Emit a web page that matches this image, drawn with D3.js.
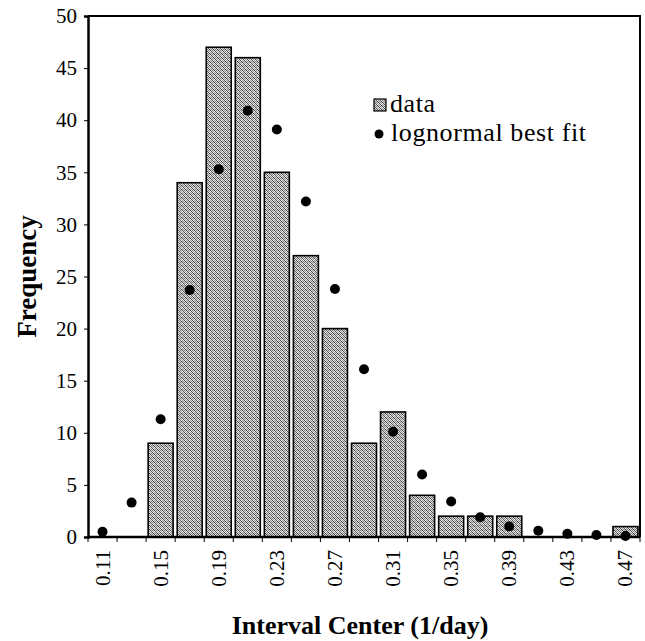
<!DOCTYPE html>
<html>
<head>
<meta charset="utf-8">
<script src="https://cdn.jsdelivr.net/npm/d3@7"></script>
<style>
  html, body { margin: 0; padding: 0; background: #fff; }
  svg { display: block; }
</style>
</head>
<body>
<svg id="chart" width="645" height="641"></svg>
<script>
// Interval centres (1/day), observed counts and lognormal fit
const categories = ["0.11","0.13","0.15","0.17","0.19","0.21","0.23","0.25","0.27","0.29",
                    "0.31","0.33","0.35","0.37","0.39","0.41","0.43","0.45","0.47"];
const dataCounts = [0, 0, 9, 34, 47, 46, 35, 27, 20, 9, 12, 4, 2, 2, 2, 0, 0, 0, 1];
const fitValues  = [0.5, 3.3, 11.3, 23.7, 35.3, 40.9, 39.1, 32.2, 23.8, 16.1,
                    10.1, 6.0, 3.4, 1.9, 1.0, 0.6, 0.3, 0.2, 0.1];
const yTicks = [0, 5, 10, 15, 20, 25, 30, 35, 40, 45, 50];
const xTickLabels = ["0.11","0.15","0.19","0.23","0.27","0.31","0.35","0.39","0.43","0.47"];

const svg = d3.select("#chart");
const margin = { left: 88, right: 5, top: 16, bottom: 104 };
const W = 645, H = 641;
const x0 = margin.left, x1 = W - margin.right, y0 = H - margin.bottom, y1 = margin.top;

const x = d3.scaleBand().domain(categories).range([x0, x1]).paddingInner(0.14).paddingOuter(0.07);
const y = d3.scaleLinear().domain([0, 50]).range([y0, y1]);

// stippled grey fill for the bars (4x4 dither cell)
const defs = svg.append("defs");
const pat = defs.append("pattern").attr("id", "stipple")
  .attr("width", 4).attr("height", 4).attr("patternUnits", "userSpaceOnUse");
pat.append("rect").attr("width", 4).attr("height", 4).attr("fill", "#d8d8d8");
const cells = [[0,0,"#555"],[2,0,"#999"],[1,1,"#333"],[3,1,"#888"],[0,2,"#888"],[2,2,"#444"],[1,3,"#999"],[3,3,"#555"],[1,0,"#f4f4f4"],[2,3,"#f4f4f4"]];
cells.forEach(([cx, cy, c]) => pat.append("rect").attr("x", cx).attr("y", cy)
  .attr("width", 1).attr("height", 1).attr("fill", c));

const font = "'Liberation Serif', 'Times New Roman', serif";

// bars
svg.append("g").selectAll("rect").data(categories).join("rect")
  .attr("x", d => x(d))
  .attr("y", (d, i) => y(dataCounts[i]))
  .attr("width", x.bandwidth())
  .attr("height", (d, i) => y(0) - y(dataCounts[i]))
  .attr("fill", "url(#stipple)")
  .attr("stroke", "#000")
  .attr("stroke-width", 1.6);

// frame (top and right)
svg.append("path")
  .attr("d", `M${x0},${y1}H${x1}V${y0}`)
  .attr("fill", "none").attr("stroke", "#000").attr("stroke-width", 2);

// y axis
const yAxis = svg.append("g").attr("transform", `translate(${x0},0)`)
  .call(d3.axisLeft(y).tickValues(yTicks).tickSize(4).tickPadding(7));
yAxis.select(".domain").attr("stroke-width", 2.5);
yAxis.selectAll("text").attr("font-family", font).attr("font-size", 21).attr("fill", "#000");

// x axis: ticks at band boundaries
const bounds = d3.range(categories.length + 1).map(i =>
  i === 0 ? x0 : i === categories.length ? x1 : x(categories[i]) - x.step() * x.paddingInner() / 2);
const xg = svg.append("g");
xg.append("line").attr("x1", x0).attr("x2", x1).attr("y1", y0).attr("y2", y0)
  .attr("stroke", "#000").attr("stroke-width", 2.5);
xg.selectAll("line.tk").data(bounds).join("line").attr("class", "tk")
  .attr("x1", d => d).attr("x2", d => d).attr("y1", y0).attr("y2", y0 + 5)
  .attr("stroke", "#000").attr("stroke-width", 1);
xg.selectAll("text").data(xTickLabels).join("text")
  .attr("transform", d => `translate(${x(d) + x.bandwidth() / 2 + 7},${y0 + 13}) rotate(-90)`)
  .attr("text-anchor", "end")
  .attr("font-family", font).attr("font-size", 21).attr("fill", "#000")
  .text(d => d);

// fit points
svg.append("g").selectAll("circle").data(categories).join("circle")
  .attr("cx", d => x(d) + x.bandwidth() / 2)
  .attr("cy", (d, i) => y(fitValues[i]))
  .attr("r", 5)
  .attr("fill", "#000");

// axis titles
svg.append("text")
  .attr("transform", `translate(36,${(y0 + y1) / 2}) rotate(-90)`)
  .attr("text-anchor", "middle")
  .attr("font-family", font).attr("font-weight", "bold").attr("font-size", 27)
  .text("Frequency");
svg.append("text")
  .attr("x", 360).attr("y", 634)
  .attr("text-anchor", "middle")
  .attr("font-family", font).attr("font-weight", "bold").attr("font-size", 26)
  .text("Interval Center (1/day)");

// legend
const lg = svg.append("g").attr("font-family", font).attr("font-size", 26).attr("letter-spacing", 0.6);
lg.append("rect").attr("x", 374).attr("y", 99).attr("width", 12).attr("height", 12)
  .attr("fill", "url(#stipple)").attr("stroke", "#000").attr("stroke-width", 1.2);
lg.append("text").attr("x", 390).attr("y", 112).text("data");
lg.append("circle").attr("cx", 379).attr("cy", 134).attr("r", 4.5).attr("fill", "#000");
lg.append("text").attr("x", 391).attr("y", 141).text("lognormal best fit");
</script>
</body>
</html>
